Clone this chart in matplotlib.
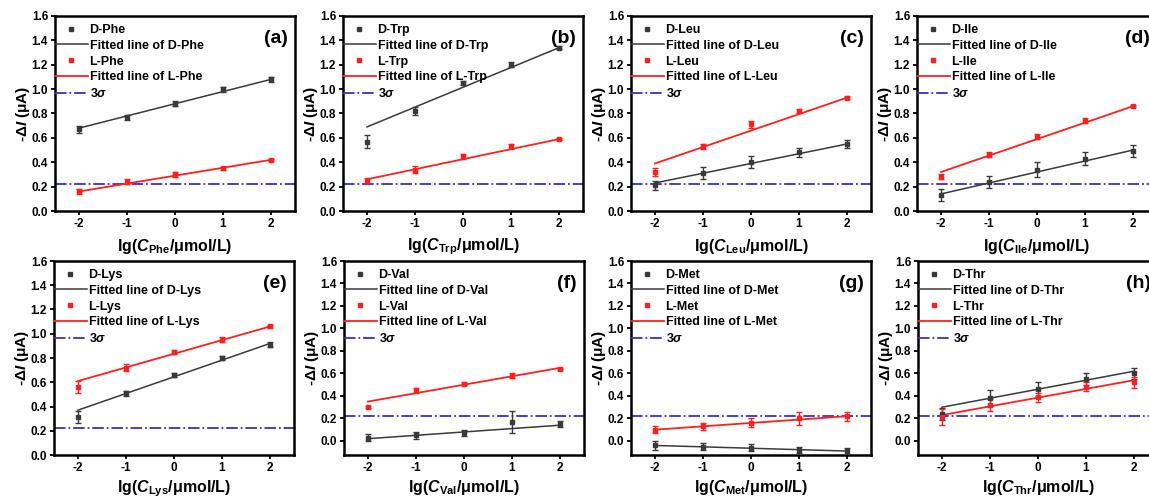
import numpy as np
import matplotlib
matplotlib.use('Agg')
import matplotlib.pyplot as plt
from matplotlib.lines import Line2D

plt.rcParams['font.family'] = 'Liberation Sans'
plt.rcParams['font.weight'] = 'bold'
plt.rcParams['axes.labelweight'] = 'bold'
plt.rcParams['mathtext.fontset'] = 'custom'
plt.rcParams['mathtext.rm'] = 'Liberation Sans:bold'
plt.rcParams['mathtext.bf'] = 'Liberation Sans:bold'
plt.rcParams['mathtext.it'] = 'Liberation Sans:italic:bold'

# concentration (log scale)
x = [-2, -1, 0, 1, 2]

panel_tags = ['(a)', '(b)', '(c)', '(d)', '(e)', '(f)', '(g)', '(h)']
amino = ['Phe', 'Trp', 'Leu', 'Ile', 'Lys', 'Val', 'Met', 'Thr']

# D-enantiomer responses and error bars
d_mean = [[0.67, 0.77, 0.88, 1.00, 1.08],
          [0.57, 0.82, 1.05, 1.20, 1.34],
          [0.21, 0.31, 0.40, 0.48, 0.55],
          [0.13, 0.24, 0.34, 0.43, 0.49],
          [0.31, 0.51, 0.66, 0.80, 0.91],
          [0.03, 0.05, 0.07, 0.17, 0.15],
          [-0.04, -0.05, -0.06, -0.08, -0.09],
          [0.24, 0.38, 0.46, 0.55, 0.60]]
d_err = [[0.03, 0.02, 0.02, 0.02, 0.02],
         [0.05, 0.03, 0.02, 0.02, 0.01],
         [0.04, 0.05, 0.05, 0.04, 0.03],
         [0.05, 0.05, 0.06, 0.05, 0.05],
         [0.05, 0.02, 0.02, 0.02, 0.02],
         [0.03, 0.03, 0.03, 0.10, 0.03],
         [0.04, 0.03, 0.03, 0.03, 0.03],
         [0.05, 0.07, 0.06, 0.05, 0.05]]

# L-enantiomer responses and error bars
l_mean = [[0.16, 0.24, 0.30, 0.35, 0.42],
          [0.25, 0.34, 0.45, 0.53, 0.59],
          [0.32, 0.53, 0.71, 0.82, 0.93],
          [0.28, 0.46, 0.61, 0.74, 0.86],
          [0.56, 0.72, 0.85, 0.95, 1.06],
          [0.30, 0.45, 0.51, 0.58, 0.64],
          [0.10, 0.13, 0.16, 0.20, 0.22],
          [0.21, 0.32, 0.39, 0.48, 0.52]]
l_err = [[0.02, 0.02, 0.02, 0.01, 0.01],
         [0.02, 0.03, 0.02, 0.02, 0.01],
         [0.03, 0.02, 0.03, 0.02, 0.01],
         [0.02, 0.02, 0.02, 0.02, 0.01],
         [0.05, 0.03, 0.02, 0.02, 0.01],
         [0.01, 0.02, 0.01, 0.02, 0.01],
         [0.03, 0.03, 0.04, 0.06, 0.04],
         [0.07, 0.05, 0.04, 0.04, 0.05]]

# fitted lines: value at lg C = -2 and lg C = 2
d_fit = [[0.68, 1.08], [0.69, 1.34], [0.23, 0.55], [0.14, 0.50],
         [0.37, 0.92], [0.02, 0.14], [-0.04, -0.09], [0.30, 0.62]]
l_fit = [[0.16, 0.42], [0.26, 0.59], [0.39, 0.93], [0.32, 0.86],
         [0.61, 1.06], [0.35, 0.65], [0.10, 0.22], [0.23, 0.54]]

sigma3 = [0.225, 0.22, 0.225, 0.225, 0.22, 0.225, 0.225, 0.22]
y_low = [0, 0, 0, 0, 0, -0.125, -0.125, -0.125]

W, H = 1149, 498
lefts = [55, 343, 631, 917, 54, 344, 631, 918]
tops = [16, 16, 16, 16, 261, 261, 261, 261]
bottoms = [211, 211, 211, 211, 455, 455, 455, 455]
ax_w = 240

dark = '#3a3a3a'
red = '#ff2020'
blue = '#3b2fc0'

fig = plt.figure(figsize=(W / 100, H / 100), dpi=100)

for i in range(8):
    ax = fig.add_axes([lefts[i] / W, 1 - bottoms[i] / H, ax_w / W,
                       (bottoms[i] - tops[i]) / H])
    a = amino[i]
    xs = np.array([-2, 2])

    ax.errorbar(x, d_mean[i], yerr=d_err[i], fmt='s', ms=3, color=dark,
                ecolor=dark, elinewidth=1, capsize=2.5, zorder=3)
    ax.plot(xs, d_fit[i], color=dark, lw=1.1, zorder=2)
    ax.errorbar(x, l_mean[i], yerr=l_err[i], fmt='s', ms=3, color=red,
                ecolor=red, elinewidth=1, capsize=2.5, zorder=3)
    ax.plot(xs, l_fit[i], color=red, lw=1.3, zorder=2)
    ax.axhline(sigma3[i], color=blue, ls='-.', lw=1.3, zorder=1)

    ax.set_xlim(-2.5, 2.5)
    ax.set_ylim(y_low[i], 1.6)
    ax.set_xticks(x)
    ax.set_xticklabels(['-2', '-1', '0', '1', '2'])
    ax.set_yticks(np.arange(0, 1.61, 0.2))
    ax.set_yticklabels(['%.1f' % v for v in np.arange(0, 1.61, 0.2)])
    ax.tick_params(direction='out', length=3, width=1.3, labelsize=8.5, pad=2)
    for s in ax.spines.values():
        s.set_linewidth(1.8)

    ax.set_ylabel('-Δ$I$ (μA)', fontsize=11, labelpad=0)
    ax.set_xlabel('lg($C_{\\mathrm{%s}}$/μmol/L)' % a, fontsize=11.5,
                  labelpad=5 if i < 4 else 3)

    handles = [
        Line2D([], [], ls='none', marker='s', ms=3, color=dark),
        Line2D([], [], color=dark, lw=1.1),
        Line2D([], [], ls='none', marker='s', ms=3, color=red),
        Line2D([], [], color=red, lw=1.3),
        Line2D([], [], color=blue, ls='-.', lw=1.3),
    ]
    labels = ['D-%s' % a, 'Fitted line of D-%s' % a, 'L-%s' % a,
              'Fitted line of L-%s' % a, '3$\\sigma$']
    ax.legend(handles, labels, loc='upper left', bbox_to_anchor=(-0.033, 1.0),
              frameon=False, fontsize=9, handlelength=2.6, handletextpad=0.15,
              labelspacing=0.3, borderaxespad=0.0, borderpad=0.65)

    ax.text(0.97, 0.93, panel_tags[i], transform=ax.transAxes, ha='right',
            va='top', fontsize=14, fontweight='bold')

fig.savefig('out.png', dpi=100)
